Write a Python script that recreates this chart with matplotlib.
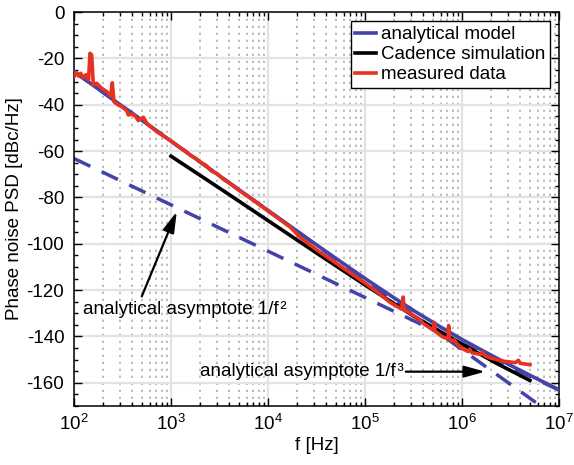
import numpy as np
import matplotlib
matplotlib.use("Agg")
import matplotlib.pyplot as plt
from matplotlib.ticker import LogLocator, MultipleLocator, NullFormatter

plt.rcParams.update({
    "font.family": ["Liberation Sans", "DejaVu Sans"],
    "font.size": 13.5,
    "axes.unicode_minus": False,
    "mathtext.fontset": "custom",
    "mathtext.rm": "Liberation Sans",
    "mathtext.it": "Liberation Sans:italic",
})

BLUE = "#4343A8"
RED = "#E8321F"

# analytical model (blue solid)
f_model = [1e2, 3.16e2, 1e3, 3.16e3, 1e4, 3.16e4, 1e5, 1.78e5, 3.16e5,
           5.62e5, 1e6, 1.78e6, 3.16e6, 5.62e6, 1e7]
psd_model = [-25.7, -40.7, -55.7, -70.7, -85.6, -100.5, -115.0, -122.0, -128.8,
             -135.2, -141.3, -147.0, -152.5, -157.8, -163.0]

# Cadence simulation (black)
f_cad = [1e3, 3.16e3, 1e4, 3.16e4, 1e5, 3.16e5, 1e6, 2.24e6, 5.01e6]
psd_cad = [-62.2, -76.0, -90.0, -104.0, -117.8, -131.2, -143.3, -151.5, -159.0]

# measured data (red)
f_meas = [100, 105, 111, 117, 125, 133, 141, 146, 152, 158, 171, 193, 217, 239,
          248, 258, 286, 309, 349, 363, 394, 426, 460, 518, 570, 631, 711, 802,
          904, 1000, 1200, 1400, 1600, 1800, 2000, 2300, 2600, 3000, 3500, 4000,
          5000, 7000, 10000, 13000, 17000, 21500, 31600, 56200, 100000, 140000,
          181000, 240000, 247000, 254000, 288000, 369000, 400000, 507000, 518000,
          527000, 631000, 716000, 727000, 740000, 776000, 832000, 891000,
          1000000, 1150000, 1200000, 1260000, 1550000, 1620000, 1700000,
          1950000, 2690000, 3550000, 3800000, 3980000, 5010000]
psd_meas = [-27.9, -26.1, -27.6, -26.4, -28.2, -27.0, -29.3, -17.8, -18.5, -31.5,
            -30.7, -32.9, -34.3, -36.2, -30.5, -38.7, -40.1, -40.8, -42.5, -44.4,
            -44.0, -44.8, -46.8, -45.4, -48.3, -49.7, -51.6, -53.0, -54.4, -55.6,
            -58.1, -59.9, -62.0, -63.1, -64.8, -66.2, -68.6, -69.8, -72.3, -73.8,
            -76.9, -81.1, -85.9, -89.3, -92.9, -97.3, -102.6, -109.8, -117.0,
            -121.5, -125.3, -128.3, -123.0, -128.6, -129.9, -132.8, -134.5,
            -137.3, -134.0, -137.8, -140.2, -141.0, -135.3, -140.5, -142.0,
            -141.5, -143.3, -145.2, -146.5, -145.5, -147.0, -147.8, -146.8,
            -148.2, -149.3, -150.7, -151.3, -150.3, -151.6, -152.2]

# analytical asymptotes (blue dashed)
f_asym = [1e2, 1e7]
psd_asym_f2 = [-63.2, -163.2]
psd_asym_f3 = [-25.7, -175.7]

fig = plt.figure(figsize=(5.74, 4.65), dpi=100)
ax = fig.add_axes([0.129, 0.127, 0.845, 0.847])

dash = (5.2, 3.6)
ax.plot(f_asym, psd_asym_f2, color=BLUE, lw=2.5, dashes=dash, zorder=2)
ax.plot(f_asym, psd_asym_f3, color=BLUE, lw=2.5, dashes=dash, zorder=2)
ax.plot(f_model, psd_model, color=BLUE, lw=2.6, label="analytical model", zorder=3)
ax.plot(f_cad, psd_cad, color="black", lw=2.6, label="Cadence simulation", zorder=4)
ax.plot(f_meas, psd_meas, color=RED, lw=2.6, label="measured data", zorder=5)

ax.set_xscale("log")
ax.set_xlim(1e2, 1e7)
ax.set_ylim(-170, 0)
ax.yaxis.set_major_locator(MultipleLocator(20))
ax.yaxis.set_minor_locator(MultipleLocator(5))
ax.xaxis.set_major_locator(LogLocator(base=10, numticks=10))
ax.xaxis.set_minor_locator(LogLocator(base=10, subs=np.arange(2, 10), numticks=20))
ax.xaxis.set_minor_formatter(NullFormatter())

ax.grid(which="major", color="#e3e3e3", lw=1.6, zorder=0)
ax.grid(which="minor", axis="x", color="#bdbdbd", lw=1.4, ls=(0, (1.2, 2.4)), zorder=0)
ax.set_axisbelow(True)

ax.tick_params(which="both", direction="in", top=True, right=True, width=1.0)
ax.tick_params(which="major", length=6)
ax.tick_params(which="minor", length=3)
ax.tick_params(axis="y", pad=7)
ax.tick_params(axis="x", pad=6)
for sp in ax.spines.values():
    sp.set_linewidth(1.1)

ax.set_xlabel("f [Hz]")
ax.set_ylabel("Phase noise PSD [dBc/Hz]")
ax.xaxis.set_label_coords(0.5, -0.078)
ax.yaxis.set_label_coords(-0.105, 0.5)

leg = ax.legend(loc="upper right", handlelength=1.1, handletextpad=0.25,
                labelspacing=0.15, borderpad=0.25, borderaxespad=0.5,
                fancybox=False, framealpha=1.0, edgecolor="black")
leg.get_frame().set_linewidth(1.0)

arrow = dict(arrowstyle="-|>,head_length=0.9,head_width=0.25", color="black",
             lw=1.6, mutation_scale=14, shrinkA=0, shrinkB=0)
ax.text(124, -128.2, "analytical asymptote 1/f\u200a\u00b2", ha="left", va="center")
ax.annotate("", xy=(1146, -86.1), xytext=(499, -122.7), arrowprops=arrow)
ax.text(1995, -155.2, "analytical asymptote 1/f\u200a\u00b3", ha="left", va="center")
ax.annotate("", xy=(1.73e6, -155.2), xytext=(2.63e5, -155.2), arrowprops=arrow)

fig.savefig("out.png", dpi=100)
